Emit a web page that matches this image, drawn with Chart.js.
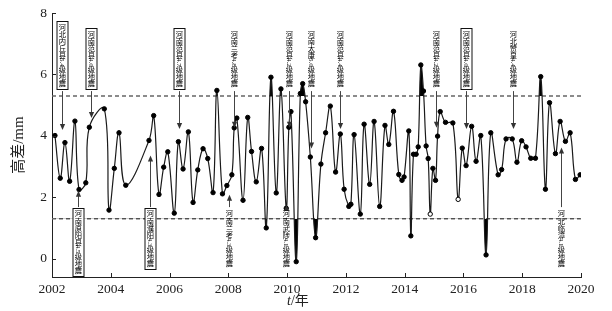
<!DOCTYPE html>
<html><head><meta charset="utf-8">
<script src="https://cdn.jsdelivr.net/npm/chart.js@4.4.0/dist/chart.umd.min.js"></script>
<style>html,body{margin:0;padding:0;background:#fff}#wrap{width:612px;height:311px}</style>
</head><body><div id="wrap"><canvas id="c" width="612" height="311"></canvas></div>
<script>
// ---- data ----
const years = [2002.10,2002.28,2002.44,2002.60,2002.78,2002.92,2003.15,2003.27,2003.78,2003.94,
2004.12,2004.28,2004.51,2005.30,2005.46,2005.64,2005.80,2005.94,2006.16,2006.30,
2006.46,2006.64,2006.80,2006.96,2007.14,2007.30,2007.48,2007.61,2007.80,2007.95,
2008.12,2008.20,2008.29,2008.50,2008.66,2008.79,2008.95,2009.13,2009.29,2009.45,
2009.63,2009.79,2009.97,2010.06,2010.13,2010.31,2010.45,2010.53,2010.63,2010.79,
2010.97,2011.15,2011.31,2011.47,2011.65,2011.81,2011.94,2012.10,2012.17,2012.28,
2012.49,2012.62,2012.81,2012.96,2013.15,2013.33,2013.46,2013.62,2013.80,2013.91,
2013.98,2014.14,2014.21,2014.30,2014.39,2014.46,2014.55,2014.64,2014.73,2014.80,
2014.87,2014.96,2015.05,2015.12,2015.21,2015.39,2015.64,2015.82,2015.96,2016.09,
2016.28,2016.43,2016.59,2016.77,2016.93,2017.18,2017.30,2017.45,2017.66,2017.82,
2017.98,2018.13,2018.29,2018.45,2018.63,2018.79,2018.93,2019.13,2019.29,2019.47,
2019.63,2019.81,2019.97];
const heightDiff = [4.01,2.62,3.78,2.52,4.48,2.25,2.47,4.28,4.88,1.58,
2.94,4.10,2.39,3.85,4.66,2.09,2.98,3.48,1.48,3.81,
2.92,4.13,1.83,2.89,3.58,3.26,2.15,5.48,2.11,2.38,
2.73,4.26,4.58,1.90,4.60,3.49,2.50,3.59,1.00,5.91,
2.14,5.53,1.64,4.28,4.79,-0.10,5.38,5.70,5.11,3.31,
0.68,3.08,4.10,4.97,2.82,4.06,2.26,1.70,1.77,4.04,
1.45,4.38,2.42,4.47,1.70,4.34,3.72,4.80,2.74,2.55,
2.66,4.16,0.74,3.40,3.40,3.64,6.31,5.46,3.67,3.26,
1.45,2.94,2.55,3.99,4.79,4.44,4.42,1.93,3.60,3.03,
4.31,3.17,4.01,0.12,4.10,2.73,2.90,3.90,3.90,3.14,
3.84,3.64,3.27,3.27,5.93,2.26,5.08,3.42,4.47,3.82,
4.10,2.58,2.73];
const hollowPoints = [80, 87];
const thresholds = [5.3, 1.3];
const xTicks = [2002,2004,2006,2008,2010,2012,2014,2016,2018,2020];
const yTicks = [0,2,4,6,8];
const quakeLabels = ['河北内丘县5.4级地震','河南范县4.0级地震','河南范县4.7级地震','河南兰考4.8级地震','河南范县4.2级地震',
 '河南太康5.0级地震','河南范县4.4级地震','河南范县4.2级地震','河南范县4.0级地震','河北赞皇4.4级地震',
 '河南原阳县4.5级地震','河南濮阳4.3级地震','河南兰考4.3级地震','河南武陟4.1级地震','河北临漳4.1级地震'];
const quakeYears = [2002.33,2003.33,2006.31,2008.20,2010.08,2010.81,2011.80,2015.05,2016.07,2017.67,
 2002.88,2005.33,2008.01,2009.97,2019.31];
const quakeTips = [4.19,4.58,4.22,4.26,4.26,3.59,4.22,4.26,4.22,4.22,
 2.21,3.36,2.08,1.75,3.62];
const quakeAbove = [true,true,true,true,true,true,true,true,true,true,false,false,false,false,false];
const quakeBoxed = [true,true,true,false,false,false,false,false,true,false,true,true,false,false,false];

// ---- chart ----
const pts = years.map((x,i)=>({x, y: heightDiff[i]}));
const xr = [xTicks[0], xTicks[xTicks.length-1]];
const CJK = '"Noto Sans CJK SC"';
const SERIF = '"Liberation Serif", "Noto Sans CJK SC"';

const annot = {
  id: 'annot',
  afterDatasetsDraw(chart){
    const {ctx, scales:{x, y}} = chart;
    ctx.save();
    // inward ticks
    ctx.strokeStyle = '#222'; ctx.lineWidth = 1;
    xTicks.forEach(t=>{const px=Math.round(x.getPixelForValue(t))+0.5;ctx.beginPath();ctx.moveTo(px,y.bottom);ctx.lineTo(px,y.bottom-4);ctx.stroke();});
    yTicks.forEach(t=>{const py=Math.round(y.getPixelForValue(t))+0.5;ctx.beginPath();ctx.moveTo(x.left,py);ctx.lineTo(x.left+4,py);ctx.stroke();});
    // earthquake labels
    const step = 7.1;
    quakeLabels.forEach((lab,i)=>{
      const items = lab.match(/\d+\.\d+|./g);
      const h = items.length*step;
      const cx = Math.round(x.getPixelForValue(quakeYears[i]))+0.5;
      const tip = y.getPixelForValue(quakeTips[i]);
      const above = quakeAbove[i];
      const y0 = above ? (y.top + 74 - h) : (y.top + 197);
      const y1 = y0 + h;
      // arrow
      ctx.strokeStyle = '#444'; ctx.fillStyle = '#333'; ctx.lineWidth = 1;
      const start = above ? y1 + 4 : y0 - 3;
      const dir = above ? 1 : -1;
      ctx.beginPath(); ctx.moveTo(cx, start); ctx.lineTo(cx, tip - dir*5); ctx.stroke();
      ctx.beginPath(); ctx.moveTo(cx, tip); ctx.lineTo(cx-2.6, tip - dir*6); ctx.lineTo(cx+2.6, tip - dir*6); ctx.closePath(); ctx.fill();
      // box
      if (quakeBoxed[i]) {
        ctx.fillStyle = '#fff';
        ctx.fillRect(cx-5.5, y0-2, 11, h+4);
        ctx.strokeStyle = '#111'; ctx.lineWidth = 1;
        ctx.strokeRect(cx-5.5, Math.round(y0-2)+0.5, 11, Math.round(h+4));
      }
      ctx.fillStyle = '#000';
      ctx.textAlign = 'center'; ctx.textBaseline = 'middle';
      items.forEach((it,k)=>{
        const cy = y0 + step*(k+0.5);
        if (/\d/.test(it)) {
          ctx.save(); ctx.translate(cx, cy); ctx.rotate(Math.PI/2);
          ctx.font = '7px "Liberation Serif"'; ctx.fillText(it, 0, 0.5); ctx.restore();
        } else {
          ctx.font = '7.3px ' + CJK; ctx.fillText(it, cx, cy);
        }
      });
    });
    // axis titles
    ctx.fillStyle = '#222';
    ctx.textBaseline = 'alphabetic'; ctx.textAlign = 'left';
    ctx.font = 'italic 14px "Liberation Serif"';
    const tx = 287, ty = 305;
    ctx.fillText('t', tx, ty);
    const tw = ctx.measureText('t').width;
    ctx.font = '14px ' + SERIF;
    ctx.fillText('/年', tx + tw, ty);
    ctx.save(); ctx.translate(19, y.top + 132); ctx.rotate(-Math.PI/2);
    ctx.textAlign = 'center'; ctx.textBaseline = 'middle';
    ctx.font = '15px ' + SERIF; ctx.fillText('高差/mm', 0, 0);
    ctx.restore();
    ctx.restore();
  }
};

new Chart(document.getElementById('c').getContext('2d'), {
  type: 'line',
  data: { datasets: [
    { data: pts, borderColor: '#1a1a1a', borderWidth: 1.2, tension: 0.4,
      pointRadius: 2.2, pointBorderWidth: 1, pointBorderColor: '#000',
      pointBackgroundColor: pts.map((_,i)=>hollowPoints.includes(i)?'#fff':'#000'),
      fill: { target: {value: thresholds[0]}, above: '#000', below: 'rgba(0,0,0,0)' } },
    { data: pts, borderColor: 'rgba(0,0,0,0)', borderWidth: 0, tension: 0.4, pointRadius: 0,
      fill: { target: {value: thresholds[1]}, above: 'rgba(0,0,0,0)', below: '#000' } },
    { data: xr.map(v=>({x:v, y:thresholds[0]})), borderColor: '#666', borderWidth: 1.5, borderDash: [4,3], pointRadius: 0, fill: false },
    { data: xr.map(v=>({x:v, y:thresholds[1]})), borderColor: '#666', borderWidth: 1.5, borderDash: [4,3], pointRadius: 0, fill: false }
  ]},
  options: {
    responsive: false, animation: false,
    plugins: { legend: {display:false}, tooltip: {enabled:false} },
    layout: { padding: { top: 8, right: 31, left: 0, bottom: 0 } },
    scales: {
      x: { type: 'linear', min: xr[0], max: xr[1],
        afterBuildTicks: s => { s.ticks = xTicks.map(v=>({value:v})); },
        afterFit: s => { s.height = 34; },
        ticks: { font: {family: 'Liberation Serif', size: 13.5}, color: '#222', padding: 4, maxRotation: 0, autoSkip: false, callback: v => String(v) },
        grid: { display: false, drawTicks: false },
        border: { display: true, color: '#222', width: 1 } },
      y: { type: 'linear', min: -0.6, max: 8,
        afterBuildTicks: s => { s.ticks = yTicks.map(v=>({value:v})); },
        afterFit: s => { s.width = 52; },
        ticks: { font: {family: 'Liberation Serif', size: 13.5}, color: '#222', padding: 5 },
        grid: { display: false, drawTicks: false },
        border: { display: true, color: '#222', width: 1 } }
    }
  },
  plugins: [annot]
});
</script></body></html>
